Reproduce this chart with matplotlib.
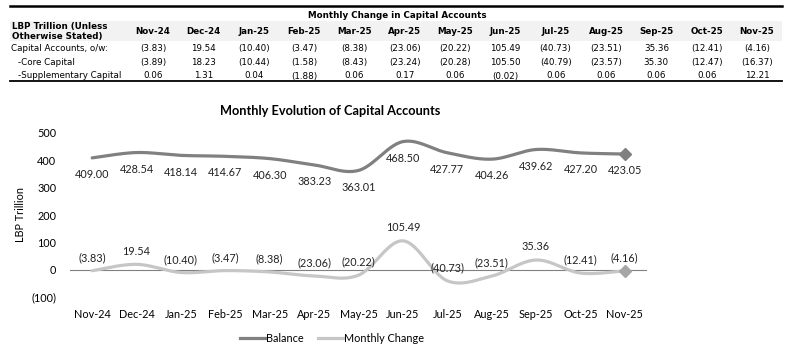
import numpy as np
import matplotlib
matplotlib.use("Agg")
import matplotlib.pyplot as plt
from matplotlib.lines import Line2D
from matplotlib.patches import Rectangle

# Data
months = ["Nov-24", "Dec-24", "Jan-25", "Feb-25", "Mar-25", "Apr-25", "May-25",
          "Jun-25", "Jul-25", "Aug-25", "Sep-25", "Oct-25", "Nov-25"]
balance = [409.00, 428.54, 418.14, 414.67, 406.30, 383.23, 363.01,
           468.50, 427.77, 404.26, 439.62, 427.20, 423.05]
monthly_change = [-3.83, 19.54, -10.40, -3.47, -8.38, -23.06, -20.22,
                  105.49, -40.73, -23.51, 35.36, -12.41, -4.16]
core_capital = [-3.89, 18.23, -10.44, -1.58, -8.43, -23.24, -20.28,
                105.50, -40.79, -23.57, 35.30, -12.47, -16.37]
supp_capital = [0.06, 1.31, 0.04, -1.88, 0.06, 0.17, 0.06,
                -0.02, 0.06, 0.06, 0.06, 0.06, 12.21]
row_labels = ["Capital Accounts, o/w:", "-Core Capital", "-Supplementary Capital"]
y_ticks = [-100, 0, 100, 200, 300, 400, 500]

W, H = 795, 356
fig = plt.figure(figsize=(W / 100, H / 100), dpi=100)


def fx(px):
    return px / W


def fy(py):
    return 1 - py / H


def fmt(v, d=2):
    return f"({abs(v):.{d}f})" if v < 0 else f"{v:.{d}f}"


# ---- table at the top ----
tfont = "DejaVu Sans"
fig.add_artist(Line2D([fx(10), fx(782)], [fy(6), fy(6)], color="black", lw=1.8))
fig.add_artist(Rectangle((fx(10), fy(41)), fx(772), 20 / H, color="#f2f2f2", lw=0))
fig.add_artist(Line2D([fx(10), fx(782)], [fy(81), fy(81)], color="black", lw=1.3))
fig.text(fx(397), fy(15), "Monthly Change in Capital Accounts", ha="center", va="center",
         fontsize=6.3, fontweight="bold", family=tfont)
fig.text(fx(12), fy(26), "LBP Trillion (Unless", ha="left", va="center",
         fontsize=6.3, fontweight="bold", family=tfont)
fig.text(fx(12), fy(36.5), "Otherwise Stated)", ha="left", va="center",
         fontsize=6.3, fontweight="bold", family=tfont)
col_x = np.linspace(153, 757, len(months))
rows = [monthly_change, core_capital, supp_capital]
row_y = [48.5, 62.5, 76]
for i, m in enumerate(months):
    fig.text(fx(col_x[i]), fy(32), m, ha="center", va="center",
             fontsize=6.3, fontweight="bold", family=tfont)
    for vals, ry in zip(rows, row_y):
        fig.text(fx(col_x[i]), fy(ry), fmt(vals[i]), ha="center", va="center",
                 fontsize=6.3, family=tfont)
for lab, ry, lx in zip(row_labels, row_y, [11, 18, 18]):
    fig.text(fx(lx), fy(ry), lab, ha="left", va="center", fontsize=6.3, family=tfont)

# ---- chart ----
cfont = "Lato"
fs = 7.8
ax = fig.add_axes([fx(70), fy(297), fx(647 - 70), (297 - 133) / H])


def smooth(y, n=30):
    # Catmull-Rom style bezier smoothing like Excel's smoothed lines
    x = np.arange(len(y), dtype=float)
    p = np.column_stack([x, np.asarray(y, float)])
    p = np.vstack([p[0], p, p[-1]])
    out = []
    t = np.linspace(0, 1, n)[:, None]
    for i in range(1, len(p) - 2):
        p0, p1, p2, p3 = p[i - 1], p[i], p[i + 1], p[i + 2]
        c1 = p1 + (p2 - p0) / 6
        c2 = p2 - (p3 - p1) / 6
        seg = ((1 - t) ** 3) * p1 + 3 * ((1 - t) ** 2) * t * c1 + 3 * (1 - t) * t ** 2 * c2 + t ** 3 * p2
        out.append(seg if i == 1 else seg[1:])
    s = np.vstack(out)
    return s[:, 0], s[:, 1]


bal_c = "#808080"
chg_c = "#c6c6c6"
xs, ys = smooth(balance)
ax.plot(xs, ys, color=bal_c, lw=2.3, solid_capstyle="round", zorder=3)
xs, ys = smooth(monthly_change)
ax.plot(xs, ys, color=chg_c, lw=2.3, solid_capstyle="round", zorder=3)
ax.plot([len(months) - 1], [balance[-1]], marker="D", ms=6.5, color=bal_c, zorder=4)
ax.plot([len(months) - 1], [monthly_change[-1]], marker="D", ms=6.5, color="#a6a6a6", zorder=4)
ax.axhline(0, color="#808080", lw=0.8, zorder=2)

for i, v in enumerate(balance):
    ax.annotate(fmt(v), (i, v), xytext=(0, -12), textcoords="offset points",
                ha="center", va="center", fontsize=fs, family=cfont, color="#222222")
for i, v in enumerate(monthly_change):
    ax.annotate(fmt(v), (i, v), xytext=(0, 9.5), textcoords="offset points",
                ha="center", va="center", fontsize=fs, family=cfont, color="#222222")

ax.set_xlim(-0.5, len(months) - 0.5)
ax.set_ylim(-100, 500)
ax.set_xticks(range(len(months)))
ax.set_xticklabels(months, fontsize=fs, family=cfont)
ax.set_yticks(y_ticks)
ax.set_yticklabels([fmt(v, 0) for v in y_ticks], fontsize=fs, family=cfont)
ax.tick_params(length=0, pad=9)
ax.tick_params(axis="y", pad=10)
for s in ax.spines.values():
    s.set_visible(False)
ax.set_ylabel("LBP Trillion", fontsize=fs, family=cfont, labelpad=4)
fig.text(fx(330), fy(111), "Monthly Evolution of Capital Accounts", ha="center", va="center",
         fontsize=9.2, fontweight="bold", family=cfont)

handles = [Line2D([], [], color=bal_c, lw=2.3), Line2D([], [], color=chg_c, lw=2.3)]
fig.legend(handles, ["Balance", "Monthly Change"], loc="center", bbox_to_anchor=(fx(332), fy(338)),
           ncol=2, frameon=False, prop={"family": cfont, "size": fs}, handlelength=2.3,
           handletextpad=0.15, columnspacing=1.3)

fig.savefig("out.png", dpi=100)
